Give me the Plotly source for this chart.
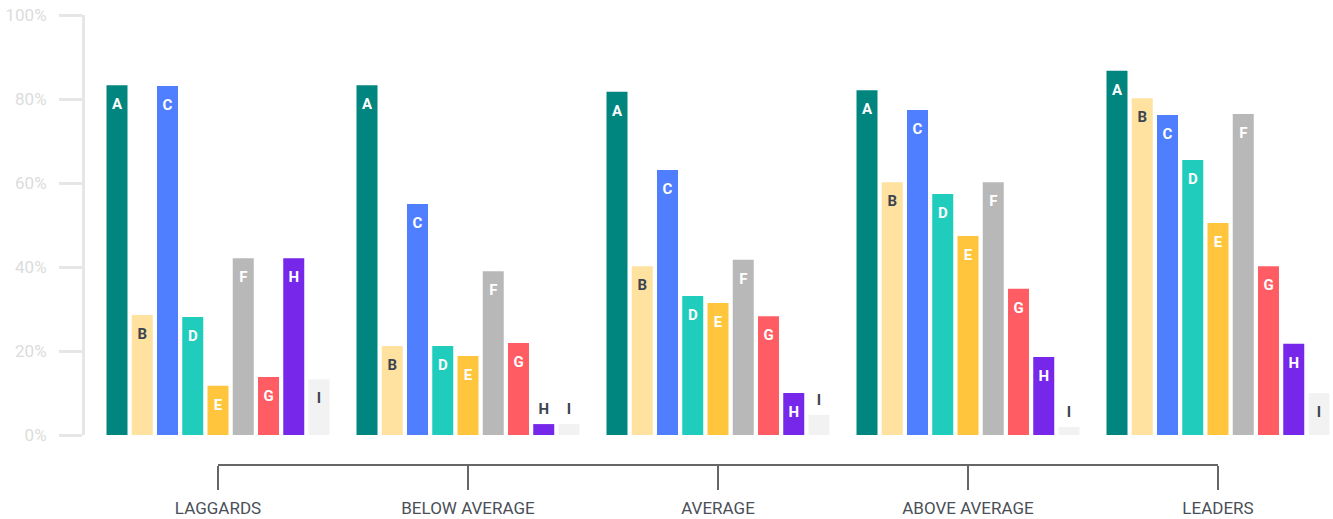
import plotly.graph_objects as go

# ---- data ----
categories = ["LAGGARDS", "BELOW AVERAGE", "AVERAGE", "ABOVE AVERAGE", "LEADERS"]
letters = ["A", "B", "C", "D", "E", "F", "G", "H", "I"]

vals_A = [83.3, 83.3, 81.7, 82.1, 86.7]
vals_B = [28.6, 21.2, 40.2, 60.2, 80.2]
vals_C = [83.1, 55.0, 63.1, 77.4, 76.2]
vals_D = [28.1, 21.2, 33.1, 57.4, 65.5]
vals_E = [11.7, 18.8, 31.4, 47.4, 50.5]
vals_F = [42.1, 39.0, 41.7, 60.2, 76.4]
vals_G = [13.8, 21.9, 28.3, 34.8, 40.2]
vals_H = [42.1, 2.6, 10.0, 18.6, 21.7]
vals_I = [13.3, 2.6, 4.8, 1.9, 10.0]

series = [vals_A, vals_B, vals_C, vals_D, vals_E, vals_F, vals_G, vals_H, vals_I]

colors = ["#00857F", "#FFE29F", "#4F7FFF", "#20CDBD", "#FFC63D",
          "#B8B8B8", "#FF5C63", "#7627EA", "#F2F2F2"]
label_dark = [False, True, False, False, False, False, False, False, True]

y_tickvals = [0, 20, 40, 60, 80, 100]
y_ticktext = ["0%", "20%", "40%", "60%", "80%", "100%"]

DARK = "#3D4451"
OUTSIDE_BELOW = 6  # bars shorter than this get their label above

fig = go.Figure()

for letter, vals, col in zip(letters, series, colors):
    fig.add_trace(go.Bar(
        x=categories, y=vals, name=letter,
        marker=dict(color=col, line=dict(width=0)),
        hoverinfo="skip", showlegend=False,
    ))

for letter, vals, dark in zip(letters, series, label_dark):
    pos = ["top center" if v < OUTSIDE_BELOW else "bottom center" for v in vals]
    sizes = [8.4 if v < OUTSIDE_BELOW else 19 for v in vals]
    tcol = [DARK if (v < OUTSIDE_BELOW or dark) else "#FFFFFF" for v in vals]
    fig.add_trace(go.Scatter(
        x=categories, y=vals, mode="markers+text",
        text=[letter] * len(vals), textposition=pos,
        textfont=dict(family="Roboto", size=15, color=tcol, weight="bold"),
        marker=dict(size=sizes, opacity=0),
        hoverinfo="skip", showlegend=False, cliponaxis=False,
    ))

fig.add_shape(type="line", xref="x", yref="paper",
              x0=categories[0], x1=categories[-1], y0=0, y1=0,
              line=dict(color="#666666", width=2))

fig.update_layout(
    width=1333, height=519,
    margin=dict(l=85, r=0, t=15, b=54),
    paper_bgcolor="white", plot_bgcolor="white",
    barmode="group", bargap=0.091, bargroupgap=0.168,
    scattermode="group", scattergap=0.091,
    showlegend=False,
    xaxis=dict(
        type="category", categoryorder="array", categoryarray=categories,
        range=[-0.532, 4.46], anchor="free", position=0,
        showline=False, showgrid=False, zeroline=False,
        ticks="outside", ticklen=24, tickwidth=2, tickcolor="#666666",
        tickfont=dict(family="Roboto", size=17, color="#4A4F57"),
        ticklabelstandoff=4,
    ),
    yaxis=dict(
        domain=[30 / 450, 1], range=[0, 100],
        tickvals=y_tickvals, ticktext=y_ticktext,
        showline=True, linecolor="#E6E6E6", linewidth=3,
        ticks="outside", ticklen=23, tickwidth=3, tickcolor="#E6E6E6",
        tickfont=dict(family="Roboto", size=17, color="#DCDCDC"),
        showgrid=False, zeroline=False, ticklabelstandoff=9,
    ),
)

fig.write_html("out.html")
